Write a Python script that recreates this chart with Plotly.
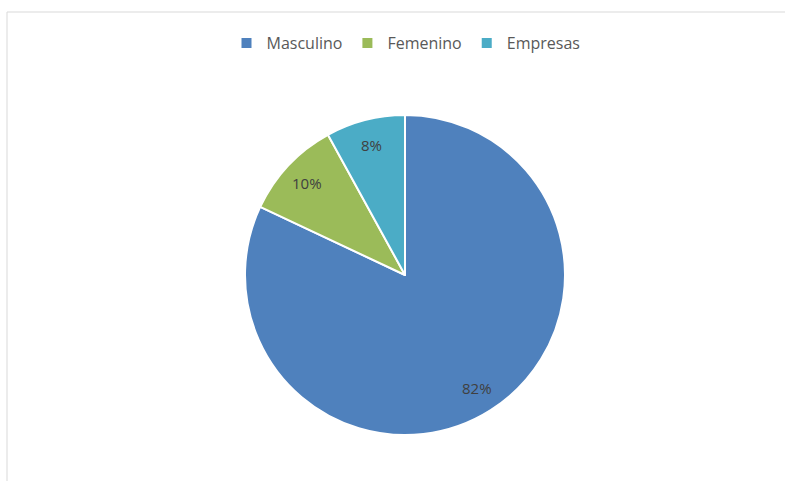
import math
import plotly.graph_objects as go

labels = ["Masculino", "Femenino", "Empresas"]
values = [82, 10, 8]
colors = ["#4F81BD", "#9BBB59", "#4BACC6"]

W, H = 785, 481
cx, cy, r = 405, 275, 160
label_frac = 0.84

fig = go.Figure(go.Pie(
    labels=labels,
    values=values,
    sort=False,
    direction="clockwise",
    rotation=0,
    marker=dict(colors=colors, line=dict(color="white", width=2)),
    textinfo="none",
    domain=dict(x=[(cx - r) / W, (cx + r) / W], y=[(H - cy - r) / H, (H - cy + r) / H]),
    hoverinfo="label+percent",
))

# Data labels placed at each slice's mid-angle (computed from values)
total = sum(values)
annotations = []
cum = 0.0
for lab, v in zip(labels, values):
    mid = (cum + v / 2) / total * 2 * math.pi  # clockwise from 12 o'clock
    cum += v
    px = cx + label_frac * r * math.sin(mid)
    py = cy - label_frac * r * math.cos(mid)
    annotations.append(dict(
        x=px / W, y=1 - py / H, xref="paper", yref="paper",
        text=f"{round(100 * v / total)}%", showarrow=False,
        xanchor="center", yanchor="middle",
        font=dict(family="Open Sans, sans-serif", size=15, color="#404040"),
    ))

fig.update_layout(
    width=W, height=H,
    margin=dict(l=0, r=0, t=0, b=0),
    paper_bgcolor="white",
    plot_bgcolor="white",
    showlegend=True,
    legend=dict(
        orientation="h",
        x=406 / W, xanchor="center",
        y=1 - 43 / H, yanchor="middle",
        font=dict(family="Open Sans, sans-serif", size=16, color="#595959"),
        itemwidth=30,
        tracegroupgap=0,
    ),
    annotations=annotations,
    shapes=[
        dict(type="line", xref="paper", yref="paper", x0=7 / W, x1=1, y0=1 - 12 / H, y1=1 - 12 / H,
             line=dict(color="#D9D9D9", width=1)),
        dict(type="line", xref="paper", yref="paper", x0=7 / W, x1=7 / W, y0=0, y1=1 - 12 / H,
             line=dict(color="#D9D9D9", width=1)),
    ],
)

fig.write_html("out.html", config={"displayModeBar": False},
               post_script="document.body.style.margin='0';")
